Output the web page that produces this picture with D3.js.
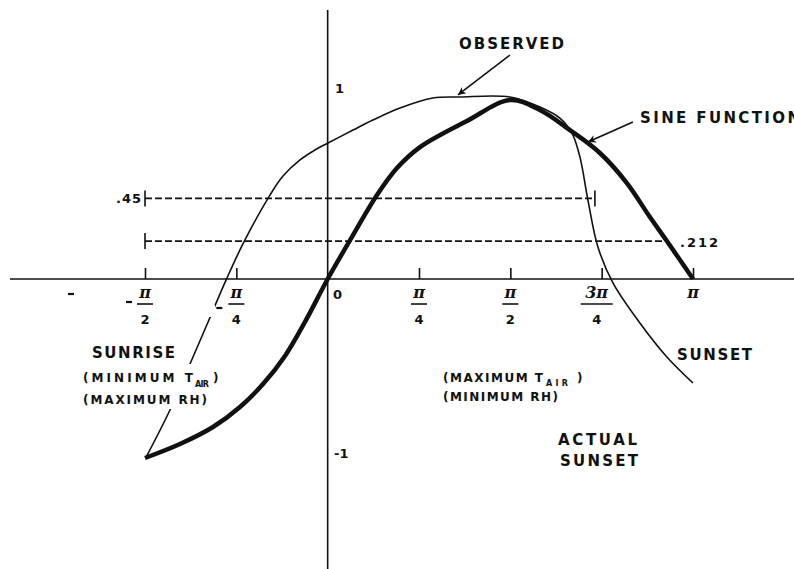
<!DOCTYPE html>
<html>
<head>
<meta charset="utf-8">
<script src="https://cdn.jsdelivr.net/npm/d3@7"></script>
<style>
  body { margin: 0; background: #fff; }
  text { font-family: "DejaVu Sans", "Liberation Sans", sans-serif; font-weight: bold; fill: #111; }
</style>
</head>
<body>
<script>
const PI = Math.PI;

// sine function (x in radians)
const sineX = [-1.571, -1.270, -0.986, -0.754, -0.556, -0.367, -0.195, 0, 0.209, 0.424, 0.596, 0.794, 1.198, 1.571, 1.825, 2.083, 2.341, 2.573, 2.771, 2.917, 3.142];
const sineY = [-1.0, -0.922, -0.827, -0.715, -0.587, -0.430, -0.240, 0, 0.235, 0.469, 0.620, 0.737, 0.883, 1.0, 0.944, 0.832, 0.704, 0.536, 0.346, 0.212, 0];

// observed curve
const obsX = [-1.560, -1.356, -1.184, -1.021, -0.874, -0.720, -0.496, -0.384, -0.238, -0.109, 0.003, 0.218, 0.389, 0.622, 0.905, 1.137, 1.567, 1.825, 1.997, 2.100, 2.169, 2.238, 2.324, 2.453, 2.685, 2.917, 3.141];
const obsY = [-0.994, -0.732, -0.475, -0.229, -0.006, 0.207, 0.469, 0.575, 0.665, 0.721, 0.760, 0.832, 0.888, 0.955, 1.011, 1.017, 1.017, 0.961, 0.899, 0.816, 0.682, 0.441, 0.179, -0.022, -0.246, -0.436, -0.581];

// dashed reference levels
const levelVals = [0.45, 0.212];
const levelLabels = [".45", ".212"];
const levelEnds = [2.298, 2.917];
const levelEndTick = [true, false];

// x tick labels
const tickVals = [-PI / 2, -PI / 4, PI / 4, PI / 2, 3 * PI / 4, PI];
const tickNum = ["π", "π", "π", "π", "3π", "π"];
const tickDen = ["2", "4", "4", "2", "4", ""];
const tickNeg = [true, true, false, false, false, false];

const width = 794, height = 569;
const svg = d3.select("body").append("svg")
  .attr("width", width)
  .attr("height", height);

const x = d3.scaleLinear().domain([-PI / 2, PI]).range([145, 693]);
const y = d3.scaleLinear().domain([-1, 1]).range([458, 100]);

// axes
svg.append("line")
  .attr("x1", 10).attr("x2", width)
  .attr("y1", y(0)).attr("y2", y(0))
  .attr("stroke", "#111").attr("stroke-width", 1.6);
svg.append("line")
  .attr("x1", x(0)).attr("x2", x(0))
  .attr("y1", 10).attr("y2", height)
  .attr("stroke", "#111").attr("stroke-width", 1.6);

const xAxis = d3.axisTop(x).tickValues(tickVals).tickSize(11).tickFormat("");
svg.append("g")
  .attr("transform", `translate(0,${y(0)})`)
  .call(xAxis)
  .call(g => g.select(".domain").remove())
  .call(g => g.selectAll(".tick line").attr("stroke", "#111").attr("stroke-width", 1.6));

// fraction labels under the axis
const tl = svg.append("g");
tickVals.forEach((v, i) => {
  const wide = tickNum[i].length > 1;
  const cx = x(v) - (wide ? 5 : 0);
  tl.append("text")
    .attr("x", cx).attr("y", 298)
    .attr("text-anchor", "middle")
    .style("font-family", "'DejaVu Serif', serif")
    .style("font-style", "italic")
    .style("font-size", "16px")
    .text(tickNum[i]);
  if (tickDen[i]) {
    const hw = wide ? 16 : 8;
    tl.append("line")
      .attr("x1", cx - hw).attr("x2", cx + hw)
      .attr("y1", 304).attr("y2", 304)
      .attr("stroke", "#111").attr("stroke-width", 1.6);
    tl.append("text")
      .attr("x", cx).attr("y", 324)
      .attr("text-anchor", "middle")
      .style("font-size", "13px")
      .text(tickDen[i]);
  }
  if (tickNeg[i]) {
    const my = i == 0 ? 302 : 308;
    const mx = i == 0 ? cx - 19 : cx - 20;
    tl.append("line")
      .attr("x1", mx).attr("x2", mx + 6)
      .attr("y1", my).attr("y2", my)
      .attr("stroke", "#111").attr("stroke-width", 2.2);
  }
});
// stray minus at the far left
svg.append("line")
  .attr("x1", 68).attr("x2", 74).attr("y1", 294).attr("y2", 294)
  .attr("stroke", "#111").attr("stroke-width", 2.2);

svg.append("text").attr("x", 333).attr("y", 299).style("font-size", "13px").text("0");
svg.append("text").attr("x", 335).attr("y", 93).style("font-size", "13px").text("1");
svg.append("text").attr("x", 334).attr("y", 458).style("font-size", "13px").text("-1");

// dashed levels
levelVals.forEach((v, i) => {
  svg.append("line")
    .attr("x1", x(-PI / 2)).attr("x2", x(levelEnds[i]))
    .attr("y1", y(v)).attr("y2", y(v))
    .attr("stroke", "#111").attr("stroke-width", 1.7)
    .attr("stroke-dasharray", "7,3");
  svg.append("line")
    .attr("x1", x(-PI / 2)).attr("x2", x(-PI / 2))
    .attr("y1", y(v) - 8).attr("y2", y(v) + 8)
    .attr("stroke", "#111").attr("stroke-width", 1.6);
  if (levelEndTick[i]) {
    svg.append("line")
      .attr("x1", x(levelEnds[i])).attr("x2", x(levelEnds[i]))
      .attr("y1", y(v) - 8).attr("y2", y(v) + 8)
      .attr("stroke", "#111").attr("stroke-width", 1.6);
  }
});
svg.append("text").attr("x", 142).attr("y", y(levelVals[0]) + 5)
  .attr("text-anchor", "end").style("font-size", "13px")
  .attr("letter-spacing", "1px").text(levelLabels[0]);
svg.append("text").attr("x", 680).attr("y", y(levelVals[1]) + 6)
  .style("font-size", "13px").attr("letter-spacing", "2px").text(levelLabels[1]);

// curves
const line = d3.line().x(d => x(d[0])).y(d => y(d[1])).curve(d3.curveCatmullRom);
const obs = d3.zip(obsX, obsY);
const sine = d3.zip(sineX, sineY);

svg.append("path")
  .attr("d", line(obs))
  .attr("fill", "none").attr("stroke", "#111").attr("stroke-width", 1.6);
svg.append("path")
  .attr("d", line(sine))
  .attr("fill", "none").attr("stroke", "#111").attr("stroke-width", 4.5)
  .attr("stroke-linejoin", "round");

// white gaps where labels cross the observed curve
svg.append("rect").attr("x", 78).attr("y", 364).attr("width", 145).attr("height", 45).attr("fill", "#fff");
svg.append("rect").attr("x", 203).attr("y", 305).attr("width", 12).attr("height", 12).attr("fill", "#fff");

// arrows
svg.append("defs").append("marker")
  .attr("id", "arr")
  .attr("viewBox", "0 0 10 10")
  .attr("refX", 10).attr("refY", 5)
  .attr("markerWidth", 14).attr("markerHeight", 8)
  .attr("markerUnits", "userSpaceOnUse")
  .attr("orient", "auto")
  .append("path").attr("d", "M0,0 L10,5 L0,10 L3,5 Z").attr("fill", "#111");

const arrows = [
  [[1.567, 1.251], [1.120, 1.028]],
  [[2.625, 0.877], [2.238, 0.765]]
];
arrows.forEach(a => {
  svg.append("line")
    .attr("x1", x(a[0][0])).attr("y1", y(a[0][1]))
    .attr("x2", x(a[1][0])).attr("y2", y(a[1][1]))
    .attr("stroke", "#111").attr("stroke-width", 1.6)
    .attr("marker-end", "url(#arr)");
});

// labels
const labels = [
  { t: "OBSERVED", x: 459, y: 49, w: 105, fs: 15 },
  { t: "SINE FUNCTION", x: 640, y: 123, w: 160, fs: 15 },
  { t: "SUNRISE", x: 92, y: 358, w: 83, fs: 15 },
  { t: "SUNSET", x: 677, y: 360, w: 75, fs: 15 },
  { t: "ACTUAL", x: 558, y: 445, w: 79, fs: 15 },
  { t: "SUNSET", x: 560, y: 466, w: 78, fs: 15 },
  { t: "(MINIMUM T", x: 83, y: 382, w: 110, fs: 12 },
  { t: "AIR", x: 195, y: 387, w: 14, fs: 8 },
  { t: ")", x: 213, y: 382, w: 5, fs: 12 },
  { t: "(MAXIMUM RH)", x: 83, y: 404, w: 124, fs: 12 },
  { t: "(MAXIMUM T", x: 443, y: 382, w: 100, fs: 12 },
  { t: "AIR", x: 546, y: 386, w: 22, fs: 8 },
  { t: ")", x: 577, y: 382, w: 5, fs: 12 },
  { t: "(MINIMUM RH)", x: 443, y: 401, w: 115, fs: 12 }
];
labels.forEach(l => {
  svg.append("text")
    .attr("x", l.x).attr("y", l.y)
    .attr("textLength", l.w)
    .attr("lengthAdjust", "spacing")
    .style("font-size", l.fs + "px")
    .text(l.t);
});
</script>
</body>
</html>
